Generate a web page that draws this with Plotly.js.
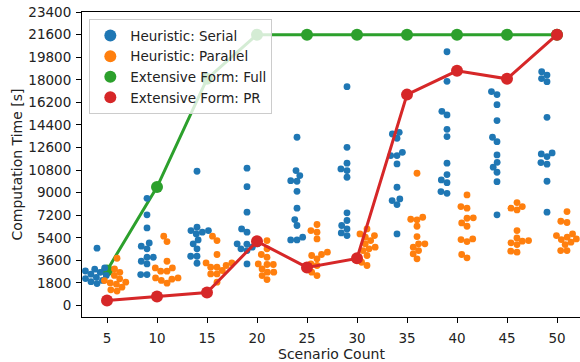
<!DOCTYPE html>
<html><head><meta charset="utf-8">
<script src="https://cdn.plot.ly/plotly-3.0.1.min.js"></script>
<style>html,body{margin:0;padding:0;background:#fff}</style>
</head><body><div id="chart" style="width:580px;height:362px"></div>
<script>
const scenarios = [5, 10, 15, 20, 25, 30, 35, 40, 45, 50];
const serialTimes = [
  [4570, 3000, 2900, 2750, 2650, 2500, 2400, 2250, 2150, 2000, 1900, 1750],
  [8550, 7230, 6190, 4990, 4730, 4520, 3850, 3850, 3530, 3320, 2470, 2470],
  [10710, 6240, 5980, 5980, 5850, 5710, 5230, 4920, 4520, 3930, 3930, 3370],
  [10950, 9480, 7440, 6110, 5850, 4920, 4920, 4900, 4650, 4520, 4380, 3320],
  [13420, 10760, 10360, 9960, 9910, 9110, 7760, 6850, 6380, 5450, 5230, 5230],
  [17450, 12620, 11350, 10890, 10760, 10230, 7390, 6780, 6380, 6110, 5790, 5580],
  [13810, 13680, 13340, 12220, 11960, 11960, 11290, 9430, 8500, 8370, 8050, 5710],
  [20240, 17880, 15490, 15200, 14050, 13470, 11350, 10440, 10020, 9800, 9090, 8950],
  [17060, 16820, 16020, 14750, 13420, 13070, 12010, 11420, 11030, 10630, 9880, 7230],
  [18650, 18380, 18100, 17850, 15010, 12170, 12090, 11880, 11400, 11270, 9910, 7440]
];
const parallelTimes = [
  [3770, 2920, 2650, 2400, 2130, 1990, 1860, 1800, 1700, 1460, 1250, 1150],
  [5530, 5100, 3530, 3000, 3000, 2740, 2740, 2200, 2200, 2100, 2000, 1780],
  [5530, 5180, 4070, 3400, 3400, 3190, 3060, 3060, 2790, 2520, 2520, 1860],
  [5180, 4520, 4070, 3850, 3320, 3270, 3270, 2920, 2660, 2660, 2390, 2070],
  [6460, 5980, 5850, 5310, 4250, 4070, 3990, 3720, 3320, 3190, 2660, 2390],
  [6110, 5710, 5580, 5450, 5180, 4920, 4650, 4520, 4380, 3990, 3450, 3190],
  [10550, 7040, 6880, 6830, 6320, 5500, 4920, 4920, 4650, 4380, 4120, 3720],
  [8820, 7890, 7760, 6990, 6960, 6590, 6320, 5310, 5260, 5100, 4070, 3800],
  [8210, 7890, 7760, 7620, 5980, 5390, 5180, 5130, 5000, 4860, 4330, 4250],
  [7490, 6720, 6620, 5710, 5580, 5450, 5310, 5260, 5050, 4860, 4380, 4380]
];
const extFull = [2800, 9450, 18080, 21600, 21600, 21600, 21600, 21600, 21600, 21600];
const extPR = [400, 720, 1040, 5120, 3040, 3760, 16820, 18720, 18080, 21600];
const yTicks = [0, 1800, 3600, 5400, 7200, 9000, 10800, 12600, 14400, 16200, 18000, 19800, 21600, 23400];
const seriesNames = ['Heuristic: Serial', 'Heuristic: Parallel', 'Extensive Form: Full', 'Extensive Form: PR'];
const colors = ['#1f77b4', '#ff7f0e', '#2ca02c', '#d62728'];

const M = {l: 82, r: 0, t: 12, b: 45};
const W = 580, H = 362;
const xRange = [2.5, 52.3];
const yRange = [-917, 23410];
const pxPerX = (W - M.l - M.r) / (xRange[1] - xRange[0]);
const pxPerY = (H - M.t - M.b) / (yRange[1] - yRange[0]);
const D = 6.3; // swarm spacing px

function swarm(vals) {
  const order = vals.map((v, i) => i).sort((a, b) => vals[a] - vals[b]);
  const placed = [];
  const off = new Array(vals.length);
  for (const i of order) {
    const y = vals[i] * pxPerY;
    const near = placed.filter(p => Math.abs(p.y - y) < D);
    const cands = [0];
    near.forEach(p => {
      const dx = Math.sqrt(D * D - (p.y - y) * (p.y - y));
      cands.push(p.x + dx, p.x - dx);
    });
    cands.sort((a, b) => Math.abs(a) - Math.abs(b) || a - b);
    let best = 0;
    for (const c of cands) {
      if (near.every(p => (p.x - c) ** 2 + (p.y - y) ** 2 >= D * D - 1e-6)) { best = c; break; }
    }
    placed.push({x: best, y: y});
    off[i] = best;
  }
  return off.map(o => o / pxPerX);
}

function swarmTrace(groups, dodge, color) {
  const xs = [], ys = [];
  groups.forEach((vals, g) => {
    const offs = swarm(vals);
    vals.forEach((v, k) => { xs.push(scenarios[g] + dodge + offs[k]); ys.push(v); });
  });
  return {x: xs, y: ys, type: 'scatter', mode: 'markers', showlegend: false, cliponaxis: true,
    marker: {color: color, size: 6.8, line: {width: 0}}, hoverinfo: 'x+y'};
}

const lineTrace = (vals, color) => ({x: scenarios, y: vals, type: 'scatter', mode: 'lines+markers',
  showlegend: false, line: {color: color, width: 3}, marker: {color: color, size: 12}});

const traces = [
  lineTrace(extFull, colors[2]),
  swarmTrace(serialTimes, -1, colors[0]),
  swarmTrace(parallelTimes, 1, colors[1]),
  lineTrace(extPR, colors[3])
];
seriesNames.forEach((n, i) => traces.push({x: [null], y: [null], type: 'scatter', mode: 'markers',
  name: n, marker: {color: colors[i], size: 12}}));

const font = {family: 'DejaVu Sans, sans-serif', size: 14, color: '#222'};
const tickFont = {family: font.family, size: 13.5, color: '#222'};
const layout = {
  width: W, height: H, margin: M, paper_bgcolor: '#fff', plot_bgcolor: '#fff', font: font,
  xaxis: {range: xRange, tickvals: scenarios, ticktext: scenarios.map(String), showgrid: false, zeroline: false,
    showline: true, mirror: true, linecolor: '#000', linewidth: 1, ticks: 'outside', ticklen: 5, tickcolor: '#000',
    tickfont: tickFont, ticklabelstandoff: 4},
  yaxis: {range: yRange, tickvals: yTicks, ticktext: yTicks.map(String), showgrid: false, zeroline: false,
    showline: true, mirror: false, linecolor: '#000', linewidth: 1, ticks: 'outside', ticklen: 5, tickcolor: '#000',
    tickfont: tickFont, ticklabelstandoff: 2},
  annotations: [
    {text: 'Computation Time [s]', xref: 'paper', yref: 'paper', x: -0.1325, y: 0.5,
      xanchor: 'center', yanchor: 'middle', textangle: -90, showarrow: false, font: font},
    {text: 'Scenario Count', xref: 'paper', yref: 'paper', x: 0.502, y: -0.121,
      xanchor: 'center', yanchor: 'middle', showarrow: false, font: font}
  ],
  legend: {x: 0.0147, y: 0.976, xanchor: 'left', yanchor: 'top', bgcolor: 'rgba(255,255,255,0.8)',
    bordercolor: '#cccccc', borderwidth: 1, font: {family: font.family, size: 13.5, color: '#222'},
    itemsizing: 'trace', tracegroupgap: 0},
  showlegend: true
};
Plotly.newPlot('chart', traces, layout, {displayModeBar: false, staticPlot: true});
</script></body></html>
